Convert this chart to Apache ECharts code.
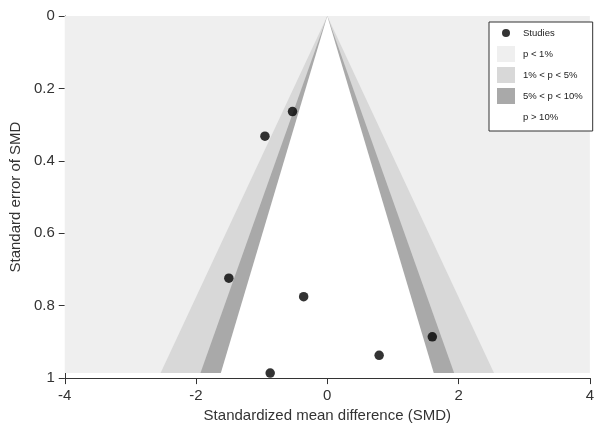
<!DOCTYPE html>
<html>
<head>
<meta charset="utf-8">
<script src="https://cdn.jsdelivr.net/npm/echarts@6/dist/echarts.min.js"></script>
<style>
html,body{margin:0;padding:0;background:#fff;}
#chart{width:597px;height:428px;}
</style>
</head>
<body>
<div id="chart"></div>
<script>
// Study estimates (SMD) and their standard errors
var studyX = [-0.53, -0.95, -1.50, -0.36, 0.79, 1.60, -0.87];
var studySE = [0.264, 0.332, 0.724, 0.775, 0.937, 0.886, 0.986];

// Contour z cut-offs (two-sided p = 1%, 5%, 10%)
var zCuts = [2.576, 1.96, 1.645];
var bandNames = ['p < 1%', '1% < p < 5%', '5% < p < 10%', 'p > 10%'];
var bandColors = ['#efefef', '#d8d8d8', '#a9a9a9', '#ffffff'];

var xTicks = [-4, -2, 0, 2, 4];
var yTicks = [0, 0.2, 0.4, 0.6, 0.8, 1];

var maxSE = Math.max.apply(null, studySE);
var FONT = 'Liberation Sans, Arial, Helvetica, sans-serif';

var chart = echarts.init(document.getElementById('chart'), null, {renderer: 'canvas'});

function rectItem(params, api) {
  var p0 = api.coord([api.value(0), 0]);
  var p1 = api.coord([api.value(1), api.value(2)]);
  return {
    type: 'rect',
    shape: {x: Math.min(p0[0], p1[0]), y: Math.min(p0[1], p1[1]),
            width: Math.abs(p1[0] - p0[0]), height: Math.abs(p1[1] - p0[1])},
    style: {fill: api.visual('color')}
  };
}
function triItem(params, api) {
  var z = api.value(0), se = api.value(1);
  var a = api.coord([0, 0]);
  var b = api.coord([z * se, se]);
  var c = api.coord([-z * se, se]);
  return {
    type: 'polygon',
    shape: {points: [a, b, c]},
    style: {fill: api.visual('color')}
  };
}

var series = [];
series.push({
  name: bandNames[0], type: 'custom', renderItem: rectItem,
  itemStyle: {color: bandColors[0]},
  data: [[xTicks[0], xTicks[xTicks.length - 1], maxSE]],
  silent: true, z: 1
});
for (var i = 0; i < zCuts.length; i++) {
  series.push({
    name: bandNames[i + 1], type: 'custom', renderItem: triItem,
    itemStyle: {color: bandColors[i + 1]},
    data: [[zCuts[i], maxSE]],
    silent: true, z: 2 + i
  });
}
series.push({
  name: 'Studies', type: 'scatter', symbol: 'circle', symbolSize: 9.5,
  itemStyle: {color: '#000000'},
  data: studyX.map(function (x, k) { return [x, studySE[k]]; }),
  z: 10
});

var option = {
  animation: false,
  backgroundColor: '#ffffff',
  textStyle: {fontFamily: FONT},
  grid: {left: 64, right: 1, top: 16, bottom: 42, containLabel: false},
  xAxis: {
    type: 'value', min: xTicks[0], max: xTicks[xTicks.length - 1], interval: 2,
    name: 'Standardized mean difference (SMD)', nameLocation: 'middle', nameGap: 29,
    nameTextStyle: {fontSize: 15, color: '#333', fontFamily: FONT},
    axisLine: {show: true, onZero: false, lineStyle: {color: '#333', width: 1}},
    axisTick: {show: true, length: 6, lineStyle: {color: '#333'}},
    axisLabel: {fontSize: 15, color: '#333', margin: 10, fontFamily: FONT},
    splitLine: {show: false}
  },
  yAxis: {
    type: 'value', inverse: true, min: yTicks[0], max: yTicks[yTicks.length - 1], interval: 0.2,
    name: 'Standard error of SMD', nameLocation: 'middle', nameGap: 38,
    nameTextStyle: {fontSize: 15, color: '#333', fontFamily: FONT},
    axisLine: {show: true, onZero: false, lineStyle: {color: '#333', width: 1}},
    axisTick: {show: true, length: 6, lineStyle: {color: '#333'}},
    axisLabel: {fontSize: 15, color: '#333', margin: 10, fontFamily: FONT},
    splitLine: {show: false}
  },
  legend: {
    orient: 'vertical', left: 489, top: 22,
    padding: [3, 10, 6, 8], itemGap: 5, itemWidth: 18, itemHeight: 16,
    backgroundColor: '#ffffff', borderColor: '#333', borderWidth: 1, borderRadius: 0,
    textStyle: {fontSize: 9.5, color: '#222', fontFamily: FONT, padding: [0, 0, 0, 3]},
    selectedMode: false,
    data: [
      {name: 'Studies', icon: 'path://M0,0 M18,16 M5,8 A4,4 0 1,0 13,8 A4,4 0 1,0 5,8 Z'},
      {name: bandNames[0], icon: 'rect'},
      {name: bandNames[1], icon: 'rect'},
      {name: bandNames[2], icon: 'rect'},
      {name: bandNames[3], icon: 'rect'}
    ]
  },
  series: series
};
chart.setOption(option);
</script>
</body>
</html>
